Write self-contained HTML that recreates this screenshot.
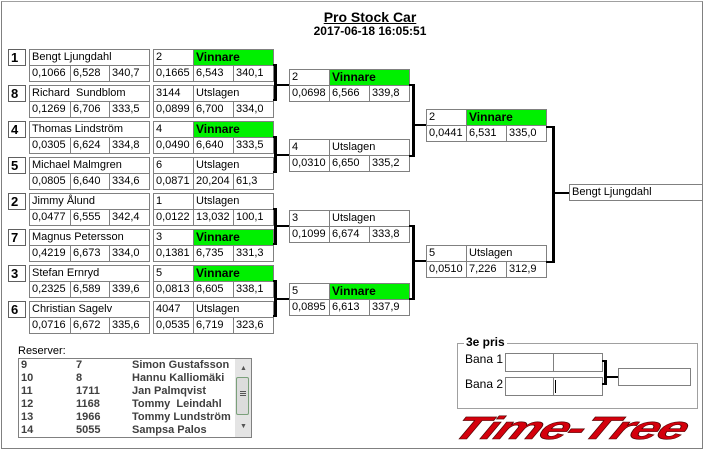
<!DOCTYPE html>
<html><head><meta charset="utf-8"><style>
body{margin:0;width:706px;height:452px;background:#fff;position:relative;overflow:hidden;font-family:"Liberation Sans",sans-serif}
.b{position:absolute;box-sizing:border-box;border:1px solid #808080;background:#fff;height:17px;font-size:11px;line-height:15px;padding-left:2px;white-space:nowrap;overflow:hidden;color:#000}
.g{background:#00f000;font-weight:bold;font-size:12px}
.s{font-weight:bold;font-size:13px;padding-left:2px;border-color:#606060}
.l{position:absolute;background:#000}
.t{position:absolute;font-size:12px;white-space:nowrap}
.r{position:absolute;font-size:11px;font-weight:bold;color:#404040;white-space:nowrap;left:0}
</style></head><body>
<div style="position:absolute;left:1px;top:1px;width:702px;height:448px;border:1px solid #808080;box-sizing:border-box;border-top-color:#a0a0a0"></div>
<div class="t" style="left:0;width:740px;text-align:center;top:9px;font-size:14px;font-weight:bold;text-decoration:underline">Pro Stock Car</div>
<div class="t" style="left:0;width:740px;text-align:center;top:24px;font-size:12px;font-weight:bold">2017-06-18 16:05:51</div>

<!-- Round 1 -->
<div class="b s" style="left:8px;top:49px;width:18px">1</div>
<div class="b" style="left:29px;top:49px;width:121px">Bengt Ljungdahl</div>
<div class="b" style="left:29px;top:65px;width:42px">0,1066</div><div class="b" style="left:70px;top:65px;width:40px">6,528</div><div class="b" style="left:109px;top:65px;width:41px">340,7</div>
<div class="b" style="left:153px;top:49px;width:41px">2</div><div class="b g" style="left:193px;top:49px;width:81px">Vinnare</div>
<div class="b" style="left:153px;top:65px;width:41px">0,1665</div><div class="b" style="left:193px;top:65px;width:41px">6,543</div><div class="b" style="left:233px;top:65px;width:41px">340,1</div>

<div class="b s" style="left:8px;top:85px;width:18px">8</div>
<div class="b" style="left:29px;top:85px;width:121px">Richard&nbsp; Sundblom</div>
<div class="b" style="left:29px;top:101px;width:42px">0,1269</div><div class="b" style="left:70px;top:101px;width:40px">6,706</div><div class="b" style="left:109px;top:101px;width:41px">333,5</div>
<div class="b" style="left:153px;top:85px;width:41px">3144</div><div class="b" style="left:193px;top:85px;width:81px">Utslagen</div>
<div class="b" style="left:153px;top:101px;width:41px">0,0899</div><div class="b" style="left:193px;top:101px;width:41px">6,700</div><div class="b" style="left:233px;top:101px;width:41px">334,0</div>

<div class="b s" style="left:8px;top:121px;width:18px">4</div>
<div class="b" style="left:29px;top:121px;width:121px">Thomas Lindström</div>
<div class="b" style="left:29px;top:137px;width:42px">0,0305</div><div class="b" style="left:70px;top:137px;width:40px">6,624</div><div class="b" style="left:109px;top:137px;width:41px">334,8</div>
<div class="b" style="left:153px;top:121px;width:41px">4</div><div class="b g" style="left:193px;top:121px;width:81px">Vinnare</div>
<div class="b" style="left:153px;top:137px;width:41px">0,0490</div><div class="b" style="left:193px;top:137px;width:41px">6,640</div><div class="b" style="left:233px;top:137px;width:41px">333,5</div>

<div class="b s" style="left:8px;top:157px;width:18px">5</div>
<div class="b" style="left:29px;top:157px;width:121px">Michael Malmgren</div>
<div class="b" style="left:29px;top:173px;width:42px">0,0805</div><div class="b" style="left:70px;top:173px;width:40px">6,640</div><div class="b" style="left:109px;top:173px;width:41px">334,6</div>
<div class="b" style="left:153px;top:157px;width:41px">6</div><div class="b" style="left:193px;top:157px;width:81px">Utslagen</div>
<div class="b" style="left:153px;top:173px;width:41px">0,0871</div><div class="b" style="left:193px;top:173px;width:41px">20,204</div><div class="b" style="left:233px;top:173px;width:41px">61,3</div>

<div class="b s" style="left:8px;top:193px;width:18px">2</div>
<div class="b" style="left:29px;top:193px;width:121px">Jimmy Ålund</div>
<div class="b" style="left:29px;top:209px;width:42px">0,0477</div><div class="b" style="left:70px;top:209px;width:40px">6,555</div><div class="b" style="left:109px;top:209px;width:41px">342,4</div>
<div class="b" style="left:153px;top:193px;width:41px">1</div><div class="b" style="left:193px;top:193px;width:81px">Utslagen</div>
<div class="b" style="left:153px;top:209px;width:41px">0,0122</div><div class="b" style="left:193px;top:209px;width:41px">13,032</div><div class="b" style="left:233px;top:209px;width:41px">100,1</div>

<div class="b s" style="left:8px;top:229px;width:18px">7</div>
<div class="b" style="left:29px;top:229px;width:121px">Magnus Petersson</div>
<div class="b" style="left:29px;top:245px;width:42px">0,4219</div><div class="b" style="left:70px;top:245px;width:40px">6,673</div><div class="b" style="left:109px;top:245px;width:41px">334,0</div>
<div class="b" style="left:153px;top:229px;width:41px">3</div><div class="b g" style="left:193px;top:229px;width:81px">Vinnare</div>
<div class="b" style="left:153px;top:245px;width:41px">0,1381</div><div class="b" style="left:193px;top:245px;width:41px">6,735</div><div class="b" style="left:233px;top:245px;width:41px">331,3</div>

<div class="b s" style="left:8px;top:265px;width:18px">3</div>
<div class="b" style="left:29px;top:265px;width:121px">Stefan Ernryd</div>
<div class="b" style="left:29px;top:281px;width:42px">0,2325</div><div class="b" style="left:70px;top:281px;width:40px">6,589</div><div class="b" style="left:109px;top:281px;width:41px">339,6</div>
<div class="b" style="left:153px;top:265px;width:41px">5</div><div class="b g" style="left:193px;top:265px;width:81px">Vinnare</div>
<div class="b" style="left:153px;top:281px;width:41px">0,0813</div><div class="b" style="left:193px;top:281px;width:41px">6,605</div><div class="b" style="left:233px;top:281px;width:41px">338,1</div>

<div class="b s" style="left:8px;top:301px;width:18px">6</div>
<div class="b" style="left:29px;top:301px;width:121px">Christian Sagelv</div>
<div class="b" style="left:29px;top:317px;width:42px">0,0716</div><div class="b" style="left:70px;top:317px;width:40px">6,672</div><div class="b" style="left:109px;top:317px;width:41px">335,6</div>
<div class="b" style="left:153px;top:301px;width:41px">4047</div><div class="b" style="left:193px;top:301px;width:81px">Utslagen</div>
<div class="b" style="left:153px;top:317px;width:41px">0,0535</div><div class="b" style="left:193px;top:317px;width:41px">6,719</div><div class="b" style="left:233px;top:317px;width:41px">323,6</div>

<!-- Round1 brackets -->
<div class="l" style="left:274px;top:64px;width:3px;height:37px"></div><div class="l" style="left:273px;top:64px;width:3px;height:2px"></div><div class="l" style="left:273px;top:99px;width:3px;height:2px"></div><div class="l" style="left:276px;top:84px;width:13px;height:2px"></div>
<div class="l" style="left:274px;top:136px;width:3px;height:37px"></div><div class="l" style="left:273px;top:136px;width:3px;height:2px"></div><div class="l" style="left:273px;top:171px;width:3px;height:2px"></div><div class="l" style="left:276px;top:154px;width:13px;height:2px"></div>
<div class="l" style="left:274px;top:208px;width:3px;height:37px"></div><div class="l" style="left:273px;top:208px;width:3px;height:2px"></div><div class="l" style="left:273px;top:243px;width:3px;height:2px"></div><div class="l" style="left:276px;top:225px;width:13px;height:2px"></div>
<div class="l" style="left:274px;top:280px;width:3px;height:37px"></div><div class="l" style="left:273px;top:280px;width:3px;height:2px"></div><div class="l" style="left:273px;top:315px;width:3px;height:2px"></div><div class="l" style="left:276px;top:298px;width:13px;height:2px"></div>

<!-- Round 2 -->
<div class="b" style="left:289px;top:69px;width:41px">2</div><div class="b g" style="left:329px;top:69px;width:81px">Vinnare</div>
<div class="b" style="left:289px;top:85px;width:41px">0,0698</div><div class="b" style="left:329px;top:85px;width:41px">6,566</div><div class="b" style="left:369px;top:85px;width:41px">339,8</div>
<div class="b" style="left:289px;top:139px;width:41px">4</div><div class="b" style="left:329px;top:139px;width:81px">Utslagen</div>
<div class="b" style="left:289px;top:155px;width:41px">0,0310</div><div class="b" style="left:329px;top:155px;width:41px">6,650</div><div class="b" style="left:369px;top:155px;width:41px">335,2</div>
<div class="b" style="left:289px;top:210px;width:41px">3</div><div class="b" style="left:329px;top:210px;width:81px">Utslagen</div>
<div class="b" style="left:289px;top:226px;width:41px">0,1099</div><div class="b" style="left:329px;top:226px;width:41px">6,674</div><div class="b" style="left:369px;top:226px;width:41px">333,8</div>
<div class="b" style="left:289px;top:283px;width:41px">5</div><div class="b g" style="left:329px;top:283px;width:81px">Vinnare</div>
<div class="b" style="left:289px;top:299px;width:41px">0,0895</div><div class="b" style="left:329px;top:299px;width:41px">6,613</div><div class="b" style="left:369px;top:299px;width:41px">337,9</div>

<!-- Round2 brackets -->
<div class="l" style="left:412px;top:84px;width:3px;height:73px"></div><div class="l" style="left:409px;top:84px;width:4px;height:2px"></div><div class="l" style="left:409px;top:155px;width:4px;height:2px"></div><div class="l" style="left:414px;top:124px;width:12px;height:2px"></div>
<div class="l" style="left:412px;top:225px;width:3px;height:75px"></div><div class="l" style="left:409px;top:225px;width:4px;height:2px"></div><div class="l" style="left:409px;top:298px;width:4px;height:2px"></div><div class="l" style="left:414px;top:260px;width:12px;height:2px"></div>

<!-- Round 3 -->
<div class="b" style="left:426px;top:109px;width:41px">2</div><div class="b g" style="left:466px;top:109px;width:81px">Vinnare</div>
<div class="b" style="left:426px;top:125px;width:41px">0,0441</div><div class="b" style="left:466px;top:125px;width:41px">6,531</div><div class="b" style="left:506px;top:125px;width:41px">335,0</div>
<div class="b" style="left:426px;top:245px;width:41px">5</div><div class="b" style="left:466px;top:245px;width:81px">Utslagen</div>
<div class="b" style="left:426px;top:261px;width:41px">0,0510</div><div class="b" style="left:466px;top:261px;width:41px">7,226</div><div class="b" style="left:506px;top:261px;width:41px">312,9</div>

<!-- Final bracket -->
<div class="l" style="left:552px;top:126px;width:3px;height:137px"></div><div class="l" style="left:546px;top:126px;width:7px;height:2px"></div><div class="l" style="left:546px;top:261px;width:7px;height:2px"></div><div class="l" style="left:554px;top:192px;width:15px;height:2px"></div>
<div class="b" style="left:569px;top:184px;width:134px">Bengt Ljungdahl</div>

<!-- Reserver -->
<div class="t" style="left:18px;top:345px;font-size:11px">Reserver:</div>
<div style="position:absolute;left:18px;top:358px;width:234px;height:80px;box-sizing:border-box;border:1px solid #808080;background:#fff;overflow:hidden">
<div style="position:absolute;left:0;top:0;width:216px;height:78px">
<div class="r" style="top:0px"><span style="position:absolute;left:2px">9</span><span style="position:absolute;left:57px">7</span><span style="position:absolute;left:113px">Simon Gustafsson</span></div>
<div class="r" style="top:13px"><span style="position:absolute;left:2px">10</span><span style="position:absolute;left:57px">8</span><span style="position:absolute;left:113px">Hannu Kalliomäki</span></div>
<div class="r" style="top:26px"><span style="position:absolute;left:2px">11</span><span style="position:absolute;left:57px">1711</span><span style="position:absolute;left:113px">Jan Palmqvist</span></div>
<div class="r" style="top:39px"><span style="position:absolute;left:2px">12</span><span style="position:absolute;left:57px">1168</span><span style="position:absolute;left:113px">Tommy&nbsp; Leindahl</span></div>
<div class="r" style="top:52px"><span style="position:absolute;left:2px">13</span><span style="position:absolute;left:57px">1966</span><span style="position:absolute;left:113px">Tommy Lundström</span></div>
<div class="r" style="top:65px"><span style="position:absolute;left:2px">14</span><span style="position:absolute;left:57px">5055</span><span style="position:absolute;left:113px">Sampsa Palos</span></div>
</div>
<div style="position:absolute;left:216px;top:0;width:16px;height:78px;background:#e4e4e4">
<div style="position:absolute;left:5px;top:6px;font-size:7px;color:#555">▲</div>
<div style="position:absolute;left:1px;top:18px;width:13px;height:38px;border:1px solid #7aa07a;border-radius:2px;background:#dcdcdc;box-sizing:border-box"></div>
<div style="position:absolute;left:5px;top:32px;width:6px;height:1px;background:#555;box-shadow:0 2px 0 #555,0 4px 0 #555"></div>
<div style="position:absolute;left:5px;top:64px;font-size:7px;color:#555">▼</div>
</div>
</div>

<!-- 3e pris -->
<div style="position:absolute;left:457px;top:343px;width:241px;height:66px;box-sizing:border-box;border:1px solid #a0a0a0"></div>
<div class="t" style="left:464px;top:335px;background:#fff;padding:0 2px;font-weight:bold">3e pris</div>
<div class="t" style="left:465px;top:352px">Bana 1</div>
<div class="t" style="left:465px;top:377px">Bana 2</div>
<div class="b" style="left:505px;top:353px;width:49px;height:19px"></div><div class="b" style="left:553px;top:353px;width:50px;height:19px"></div>
<div class="b" style="left:505px;top:377px;width:49px;height:19px"></div><div class="b" style="left:553px;top:377px;width:50px;height:19px"></div>
<div class="l" style="left:555px;top:380px;width:1px;height:13px"></div>
<div class="l" style="left:604px;top:360px;width:3px;height:25px"></div><div class="l" style="left:602px;top:360px;width:3px;height:2px"></div><div class="l" style="left:602px;top:383px;width:3px;height:2px"></div><div class="l" style="left:606px;top:376px;width:12px;height:2px"></div>
<div class="b" style="left:618px;top:368px;width:73px;height:18px"></div>

<!-- Logo -->
<div style="position:absolute;left:457px;top:410px;width:232px;height:36px;overflow:visible">
<div style="position:absolute;left:8px;top:0;font-size:32px;font-weight:900;font-style:italic;color:#d4000c;white-space:nowrap;transform-origin:0 0;transform:scaleX(1.62) skewX(-18deg);letter-spacing:-1px;-webkit-text-stroke:0.6px #500;line-height:36px">Time-Tree</div>
</div>
</body></html>
